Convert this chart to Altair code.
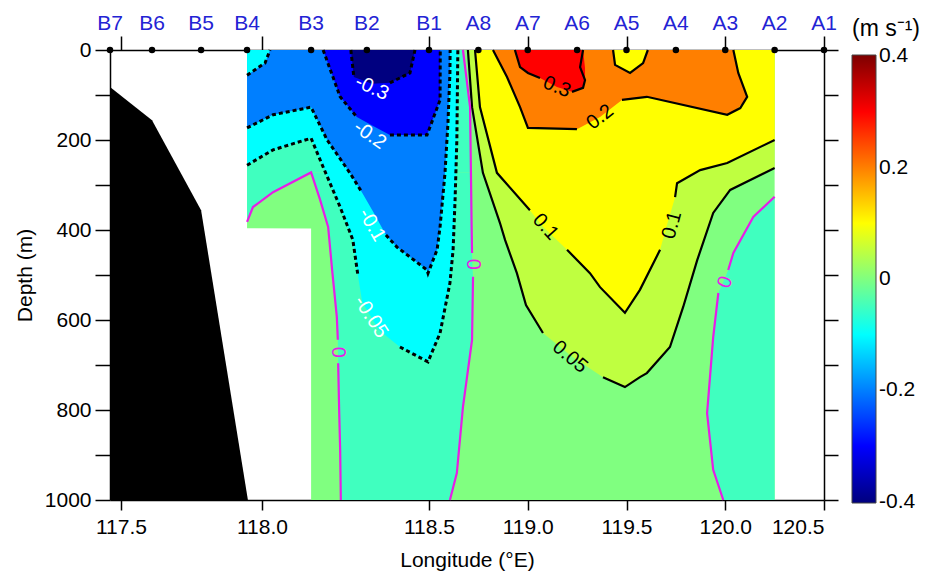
import altair as alt
import pandas as pd

FONT = "Liberation Sans, Arial, Helvetica, sans-serif"

# ---------------- stations along the top ----------------
station_names = ["B7", "B6", "B5", "B4", "B3", "B2", "B1", "A8", "A7", "A6", "A5", "A4", "A3", "A2", "A1"]
station_lon = [117.461, 117.610, 117.784, 117.947, 118.147, 118.314, 118.500,
               118.750, 119.000, 119.250, 119.500, 119.750, 120.000, 120.250, 120.500]

# ---------------- axes ----------------
lon_ticks = [117.5, 118.0, 118.5, 119.0, 119.5, 120.0, 120.5]
depth_ticks = [0, 100, 200, 300, 400, 500, 600, 700, 800, 900, 1000]
cbar_ticks = [0.4, 0.2, 0.0, -0.2, -0.4]
# section distance is labelled by longitude: piecewise-linear longitude axis
lon_knots = [117.461, 118.0, 118.5, 120.5]
knot_pos = [0, 152, 319, 714]

# jet colour map (colour bar runs from -0.4 to 0.4)
jet_values = [-0.402, -0.4, -0.3, -0.1, 0.1, 0.3, 0.4, 0.402]
jet_colors = ["#000080", "#000080", "#0000ff", "#00ffff", "#ffff00", "#ff0000", "#800000", "#800000"]

# ---------------- section extent ----------------
field_west = 117.947   # B4
field_east = 120.25    # A2
step_lon = 118.147     # B3
step_depth = 396
step_depth_b = 396.5

# bathymetry (black)
bathy_lon = [117.461, 117.610, 117.784, 117.950]
bathy_depth = [82, 156, 356, 1000]

# ---------------- contours (lon, depth) ; segs = drawn line pieces (label gaps) ----------------
m030_lon = [118.266, 118.275, 118.329, 118.383, 118.443, 118.458]
m030_dep = [0, 60, 75, 73, 51, 0]
m030_seg = [(0, 1), (3, 5)]

m020_lon = [118.183, 118.234, 118.284, 118.330, 118.383, 118.494, 118.556, 118.557]
m020_dep = [0, 104, 149, 168, 189, 189, 111, 0]
m020_seg = [(0, 2), (4, 7)]

m010_lon = [117.947, 118.033, 118.147, 118.195, 118.263, 118.299, 118.335, 118.371, 118.404,
            118.494, 118.497, 118.541, 118.556, 118.581, 118.596, 118.606, 118.607]
m010_dep = [173, 144, 127, 200, 273, 316, 362, 411, 438, 489, 496, 444, 393, 273, 162, 51, 0]
m010_seg = [(0, 5), (7, 16)]

m010b_lon = [117.947, 118.009, 118.024]
m010b_dep = [56, 29, 0]
m010b_seg = [(0, 2)]

m005_lon = [117.947, 118.033, 118.147, 118.183, 118.234, 118.272, 118.287, 118.300, 118.350,
            118.413, 118.497, 118.556, 118.606, 118.622, 118.632, 118.641, 118.646]
m005_dep = [256, 222, 196, 260, 349, 422, 500, 560, 622, 660, 693, 629, 518, 444, 333, 200, 0]
m005_seg = [(0, 6), (9, 16)]

# western 0-contour (magenta)
z_left_lon = [117.947, 117.968, 118.033, 118.147, 118.174, 118.198, 118.210, 118.224,
              118.227, 118.228, 118.231, 118.234, 118.236]
z_left_dep = [382, 349, 316, 272, 333, 393, 489, 593, 644, 696, 800, 889, 1000]
z_left_seg = [(0, 8), (9, 12)]
# its rising (western) limb
z_rise_lon = [117.947, 117.968, 118.033, 118.147]
z_rise_dep = [382, 349, 316, 272]

# middle 0-contour (magenta)
z_mid_lon = [118.672, 118.708, 118.716, 118.718, 118.723, 118.718, 118.672, 118.641, 118.606]
z_mid_dep = [0, 127, 396, 451, 504, 644, 793, 940, 1000]
z_mid_seg = [(0, 3), (4, 8)]

# negative band between western and middle 0-contours, below 272 m: west / east edge by depth
neg_band_dep = [272, 316, 349, 382, 396, 451, 489, 504, 593, 644, 696, 800, 889, 940, 1000]
neg_band_west = [118.147, 118.166, 118.180, 118.194, 118.199, 118.205, 118.210, 118.212, 118.224,
                 118.227, 118.228, 118.231, 118.234, 118.235, 118.236]
neg_band_east = [118.712, 118.713, 118.714, 118.715, 118.716, 118.718, 118.721, 118.723, 118.721,
                 118.718, 118.705, 118.670, 118.652, 118.641, 118.606]
# ... and above 272 m
neg_top_dep = [0, 127, 272]
neg_top_east = [118.672, 118.708, 118.712]

z_right_lon = [120.250, 120.142, 120.041, 120.015, 119.990, 119.965, 119.939, 119.908, 119.939, 119.990]
z_right_dep = [326, 371, 451, 489, 515, 540, 638, 807, 933, 1000]
z_right_seg = [(0, 3), (5, 9)]

p005_lon = [118.697, 118.718, 118.773, 118.859, 118.885, 118.945, 118.991, 119.077, 119.220, 119.381,
            119.492, 119.568, 119.603, 119.720, 119.787, 119.858, 119.939, 120.025, 120.250]
p005_dep = [0, 127, 273, 384, 422, 496, 567, 629, 680, 727, 749, 727, 718, 660, 571, 467, 362, 311, 262]
p005_seg = [(0, 7), (9, 18)]

p010_lon = [118.733, 118.758, 118.844, 119.011, 119.077, 119.199, 119.315, 119.366, 119.492,
            119.568, 119.670, 119.705, 119.746, 119.756, 119.873, 120.010, 120.250]
p010_dep = [0, 127, 273, 356, 393, 444, 496, 527, 584, 533, 444, 389, 327, 296, 267, 251, 200]
p010_seg = [(0, 3), (5, 10), (12, 16)]

# 0.2 region (orange): top / bottom of the region
p020_lon = [118.824, 118.895, 118.961, 119.001, 119.249, 119.366, 119.477, 119.603, 120.010,
            120.041, 120.066, 120.096, 120.111]
p020_top = [0, 0, 0, 0, 0, 0, 0, 0, 0, 0, 51, 87, 104]
p020_bot = [0, 60, 127, 173, 176, 149, 111, 104, 144, 136, 129, 114, 104]
p020_line_lon = [118.824, 118.895, 118.961, 119.001, 119.249, 119.477, 119.603, 120.010,
                 120.076, 120.111, 120.066, 120.041]
p020_line_dep = [0, 60, 127, 173, 176, 111, 104, 144, 129, 104, 51, 0]
p020_seg = [(0, 4), (5, 11)]

# small 0.1-0.2 island at A5
isl_lon = [119.432, 119.442, 119.518, 119.584, 119.608]
isl_dep = [0, 33, 51, 29, 0]
isl_seg = [(0, 4)]

# 0.3 region (red)
p030_lon = [118.935, 118.961, 119.001, 119.062, 119.148, 119.224, 119.265, 119.280, 119.290]
p030_top = [0, 0, 0, 0, 0, 0, 0, 0, 40]
p030_bot = [0, 38, 51, 62, 82, 93, 87, 84, 67]
p030_line_lon = [118.935, 118.961, 119.001, 119.062, 119.224, 119.280, 119.290, 119.265, 119.280]
p030_line_dep = [0, 38, 51, 62, 93, 84, 67, 38, 0]
p030_seg = [(0, 3), (4, 8)]

# contour labels
neg_text = ["-0.3", "-0.2", "-0.1", "-0.05"]
neg_lon = [118.329, 118.323, 118.329, 118.326]
neg_dep = [84, 189, 389, 593]
neg_ang = [25, 35, 60, 57]

zero_text = ["0", "0", "0"]
zero_lon = [118.228, 118.723, 120.000]
zero_dep = [672, 476, 516]
zero_ang = [90, 90, 290]

pos_text = ["0.3", "0.2", "0.1", "0.1", "0.05"]
pos_lon = [119.148, 119.366, 119.090, 119.730, 119.214]
pos_dep = [82, 149, 393, 389, 682]
pos_ang = [22, 322, 48, 285, 40]


# ---------------- tables ----------------
def vfill(lons, tops, bots, level):
    return pd.DataFrame({"lon": lons, "d": tops, "d2": bots, "lo": level})


def hfill(deps, lefts, rights, level):
    return pd.DataFrame({"d": deps, "lon": lefts, "lon2": rights, "lo": level})


def above(lons, deps, level):
    return vfill(lons, [0] * len(lons), deps, level)


def lines(name, lons, deps, segs):
    rows = []
    for k, (a, b) in enumerate(segs):
        for i in range(a, b + 1):
            rows.append({"key": f"{name}{k}", "o": i, "lon": lons[i], "d": deps[i]})
    return rows


# base field (0 .. 0.05)
base_df = hfill([0, step_depth, step_depth_b, 1000],
                [field_west, field_west, step_lon, step_lon],
                [field_east] * 4, 0.0)

fills = [
    ("h", hfill(neg_top_dep, [field_west] * len(neg_top_dep), neg_top_east, -0.05)),
    ("v", above(z_rise_lon, z_rise_dep, -0.05)),
    ("h", hfill(neg_band_dep, neg_band_west, neg_band_east, -0.05)),
    ("v", above(m005_lon, m005_dep, -0.1)),
    ("v", above(m010_lon, m010_dep, -0.2)),
    ("v", above(m010b_lon, m010b_dep, -0.1)),
    ("v", above(m020_lon, m020_dep, -0.3)),
    ("v", above(m030_lon, m030_dep, -0.4)),
    ("h", hfill(z_right_dep, z_right_lon, [field_east] * len(z_right_dep), -0.05)),
    ("v", above(p005_lon, p005_dep, 0.05)),
    ("v", above(p010_lon, p010_dep, 0.1)),
    ("v", vfill(p020_lon, p020_top, p020_bot, 0.2)),
    ("v", above(isl_lon, isl_dep, 0.1)),
    ("v", vfill(p030_lon, p030_top, p030_bot, 0.3)),
]

dashed_df = pd.DataFrame(
    lines("m030", m030_lon, m030_dep, m030_seg) + lines("m020", m020_lon, m020_dep, m020_seg)
    + lines("m010", m010_lon, m010_dep, m010_seg) + lines("m010b", m010b_lon, m010b_dep, m010b_seg)
    + lines("m005", m005_lon, m005_dep, m005_seg))
solid_df = pd.DataFrame(
    lines("p005", p005_lon, p005_dep, p005_seg) + lines("p010", p010_lon, p010_dep, p010_seg)
    + lines("p020", p020_line_lon, p020_line_dep, p020_seg) + lines("isl", isl_lon, isl_dep, isl_seg)
    + lines("p030", p030_line_lon, p030_line_dep, p030_seg))
zero_df = pd.DataFrame(
    lines("zl", z_left_lon, z_left_dep, z_left_seg) + lines("zm", z_mid_lon, z_mid_dep, z_mid_seg)
    + lines("zr", z_right_lon, z_right_dep, z_right_seg))

bathy_df = pd.DataFrame({"lon": bathy_lon, "d": bathy_depth, "d2": [1000] * len(bathy_lon)})
station_df = pd.DataFrame({"lon": station_lon, "name": station_names, "d": [0] * len(station_lon)})
neg_df = pd.DataFrame({"lon": neg_lon, "d": neg_dep, "t": neg_text, "ang": neg_ang})
zlab_df = pd.DataFrame({"lon": zero_lon, "d": zero_dep, "t": zero_text, "ang": zero_ang})
pos_df = pd.DataFrame({"lon": pos_lon, "d": pos_dep, "t": pos_text, "ang": pos_ang})

# ---------------- scales / axes ----------------
XS = alt.Scale(domain=lon_knots, range=knot_pos, nice=False, zero=False)
YS = alt.Scale(domain=[0, 1000], reverse=True, nice=False, zero=False)
CS = alt.Scale(domain=jet_values, range=jet_colors, interpolate="rgb")

ax_bottom = alt.Axis(orient="bottom", values=lon_ticks, format=".1f", title="Longitude (°E)",
                     tickSize=10, labelPadding=6, titlePadding=12, grid=False)
ax_left = alt.Axis(orient="left", values=depth_ticks, format="d",
                   labelExpr="datum.value % 200 == 0 ? datum.label : ''",
                   title="Depth (m)", tickSize=15, labelPadding=4, titlePadding=9, grid=False)
ax_top = alt.Axis(orient="top", values=lon_ticks, labels=False, title=None, tickSize=14, grid=False)
ax_right = alt.Axis(orient="right", values=depth_ticks, labels=False, title=None, tickSize=14, grid=False)

legend = alt.Legend(title="(m s⁻¹)", orient="none", legendX=742, legendY=-32, direction="vertical",
                    gradientLength=448, gradientThickness=24, values=cbar_ticks,
                    labelExpr="datum.value == 0 ? '0' : (datum.value < 0 ? '-' : '') + format(abs(datum.value), '.1f')",
                    labelFont=FONT, labelFontSize=21, labelColor="black",
                    labelOffset=3, labelOverlap=False,
                    titleFont=FONT, titleFontSize=23, titleFontWeight="normal", titleColor="black",
                    titlePadding=14, gradientStrokeColor="#444444", gradientStrokeWidth=1)

color_enc = alt.Color("lo:Q", scale=CS, legend=legend)
X_NA = alt.X("lon:Q", scale=XS, axis=None)
Y_NA = alt.Y("d:Q", scale=YS, axis=None)

layers = []
layers.append(
    alt.Chart(base_df).mark_area(orient="horizontal").encode(
        y=alt.Y("d:Q", scale=YS, axis=ax_left),
        x=alt.X("lon:Q", scale=XS, axis=ax_bottom),
        x2=alt.X2(field="lon2"), color=color_enc))
for kind, df in fills:
    if kind == "v":
        layers.append(
            alt.Chart(df).mark_area(orient="vertical").encode(
                x=X_NA, y=Y_NA, y2=alt.Y2(field="d2"), color=color_enc))
    else:
        layers.append(
            alt.Chart(df).mark_area(orient="horizontal").encode(
                y=Y_NA, x=X_NA, x2=alt.X2(field="lon2"), color=color_enc))

layers.append(
    alt.Chart(bathy_df).mark_area(orient="vertical", color="black").encode(
        x=X_NA, y=Y_NA, y2=alt.Y2(field="d2")))

layers.append(
    alt.Chart(dashed_df).mark_line(color="black", strokeWidth=3, strokeDash=[4, 3]).encode(
        x=X_NA, y=Y_NA, detail="key:N", order=alt.Order("o:Q")))
layers.append(
    alt.Chart(solid_df).mark_line(color="black", strokeWidth=2.2).encode(
        x=X_NA, y=Y_NA, detail="key:N", order=alt.Order("o:Q")))
layers.append(
    alt.Chart(zero_df).mark_line(color="#e61ee6", strokeWidth=2.2).encode(
        x=X_NA, y=Y_NA, detail="key:N", order=alt.Order("o:Q")))

for df, col in [(neg_df, "white"), (zlab_df, "#e61ee6"), (pos_df, "black")]:
    layers.append(
        alt.Chart(df).mark_text(font=FONT, fontSize=20, color=col, align="center", baseline="middle").encode(
            x=X_NA, y=Y_NA, text="t:N", angle=alt.Angle("ang:Q", scale=None)))

layers.append(
    alt.Chart(station_df).mark_point(filled=True, size=42, color="black", opacity=1).encode(
        x=alt.X("lon:Q", scale=XS, axis=ax_top), y=alt.Y("d:Q", scale=YS, axis=ax_right)))
layers.append(
    alt.Chart(station_df).mark_text(font=FONT, fontSize=21, color="#2323d4", align="center",
                                    baseline="bottom", dy=-16).encode(
        x=X_NA, y=Y_NA, text="name:N"))

chart = alt.layer(*layers).resolve_axis(x="independent", y="independent").properties(
    width=714, height=450,
    padding={"left": 102, "top": 42, "right": 104, "bottom": 71},
    autosize=alt.AutoSizeParams(type="none"),
).configure_axis(
    domainColor="black", domainWidth=1.5, tickColor="black", tickWidth=1.5,
    labelFont=FONT, labelFontSize=21, labelColor="black",
    titleFont=FONT, titleFontSize=21, titleFontWeight="normal", titleColor="black", zindex=1,
).configure_view(strokeWidth=0)

chart.save("out.html", embed_options={"renderer": "svg", "actions": False})
